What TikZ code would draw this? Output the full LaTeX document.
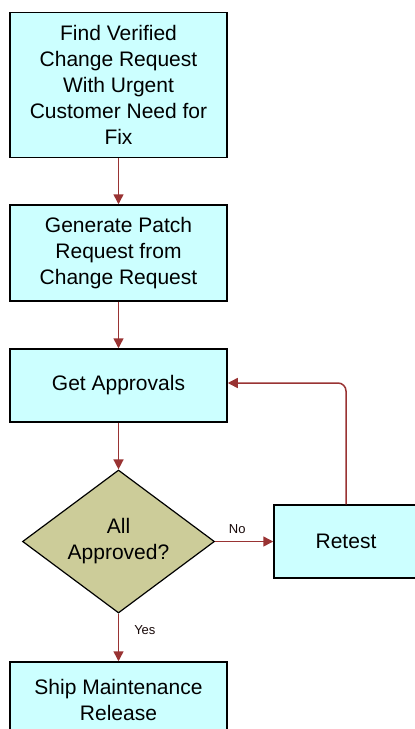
\documentclass[tikz,border=0pt]{standalone}
\usepackage{fontspec}
\setmainfont{Liberation Sans}
\usetikzlibrary{shapes.geometric,arrows.meta}
\definecolor{boxfill}{HTML}{CCFFFF}
\definecolor{decfill}{HTML}{CCCC99}
\definecolor{edgecol}{HTML}{993333}
\tikzset{
  procbox/.style={draw=black, line width=1.5pt, fill=boxfill, rectangle, inner sep=0pt,
    minimum width=217pt, align=center, font=\fontsize{21pt}{26pt}\selectfont},
  decbox/.style={draw=black, line width=1.2pt, fill=decfill, diamond, inner sep=0pt,
    shape aspect=1.35, minimum width=192pt, minimum height=143pt, align=center,
    font=\fontsize{21pt}{26pt}\selectfont},
  flow/.style={draw=edgecol, line width=1.5pt, -{Triangle[length=10pt,width=10pt]}},
  elabel/.style={font=\fontsize{13pt}{15pt}\selectfont, text=black!85!edgecol, inner sep=1pt}
}
\begin{document}
\begin{tikzpicture}[x=1pt,y=-1pt]
\useasboundingbox (0,0) rectangle (415,729);
\clip (0,0) rectangle (415,729);
\node[procbox, minimum height=145pt] (find) at (118.5,85)
  {Find Verified\\Change Request\\With Urgent\\Customer Need for\\Fix};
\node[procbox, minimum height=96pt] (gen) at (118.5,253)
  {Generate Patch\\Request from\\Change Request};
\node[procbox, minimum height=73pt] (get) at (118.5,385.5) {Get Approvals};
\node[decbox] (dec) at (118.5,541.5) {All\\Approved?};
\node[procbox, minimum width=144pt, minimum height=73pt] (retest) at (346,541.5) {Retest};
\node[procbox, minimum height=76pt] (ship) at (118.5,700) {Ship Maintenance\\Release};
\coordinate (corner) at (346,383);
\draw[flow] (find.south) -- (gen.north);
\draw[flow] (gen.south) -- (get.north);
\draw[flow] (get.south) -- (dec.north);
\draw[flow] (dec.east) -- node[elabel, above, pos=0.38, yshift=6pt] {No} (retest.west);
\draw[flow] (dec.south) -- node[elabel, right, pos=0.35, xshift=14pt] {Yes} (ship.north);
\draw[flow, rounded corners=8pt] (retest.north) -- (corner) -- (get.east |- corner);
\end{tikzpicture}
\end{document}
